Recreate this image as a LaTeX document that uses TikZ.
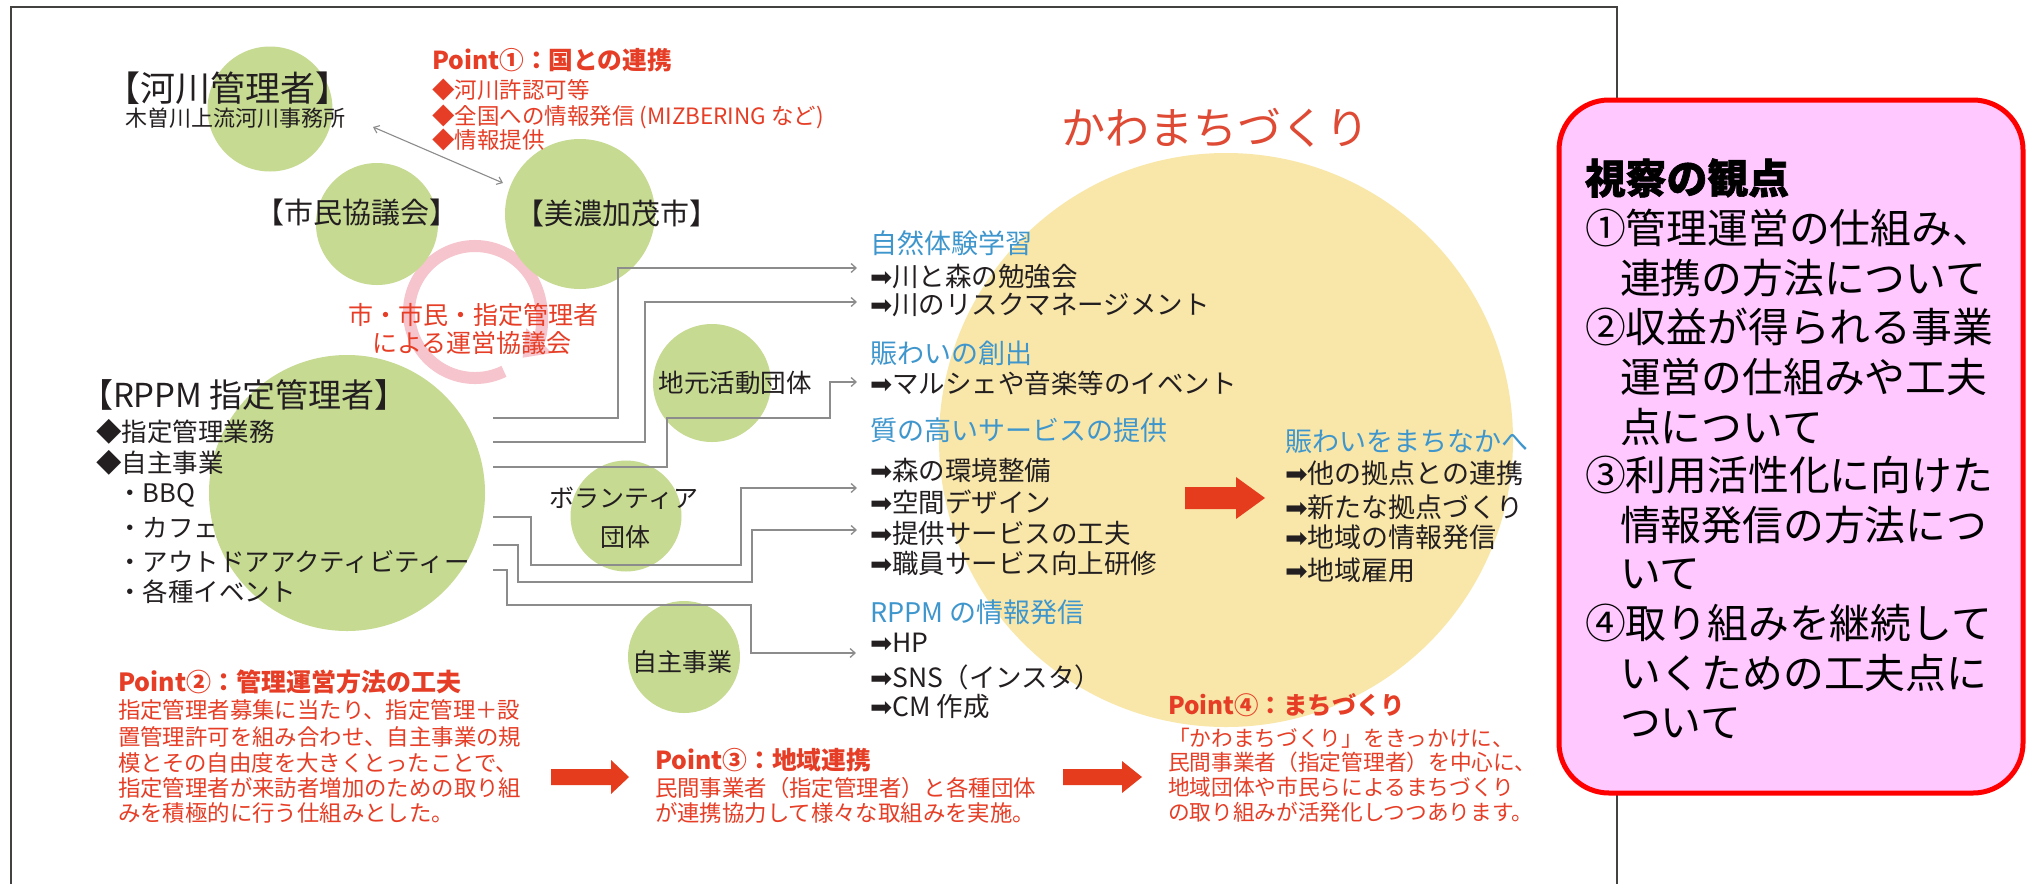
\documentclass[tikz,border=0pt]{standalone}
\usepackage{fontspec}
\setmainfont{Noto Sans CJK JP}
\newfontfamily\symf{DejaVu Sans}
\usetikzlibrary{arrows.meta}
\definecolor{ink}{RGB}{35,31,32}
\definecolor{ptred}{RGB}{230,62,38}
\definecolor{kawared}{RGB}{222,74,52}
\definecolor{skyblue}{RGB}{62,150,205}
\definecolor{leaf}{RGB}{198,218,146}
\definecolor{sun}{RGB}{249,231,170}
\definecolor{ringpink}{RGB}{246,196,205}
\definecolor{lgray}{RGB}{140,140,140}
\definecolor{boxred}{RGB}{255,0,0}
\definecolor{boxpink}{RGB}{255,200,255}
\definecolor{arrred}{RGB}{230,60,30}
\newcommand\fsz[1]{\fontsize{#1}{#1}\selectfont}
\newcommand\myarr{{\symf ➡}}
\begin{document}
\begin{tikzpicture}[x=1pt,y=-1pt,
  every node/.style={inner sep=0pt,outer sep=0pt},
  blk/.style={text=ink},
  rd/.style={text=ptred},
  bl/.style={text=skyblue},
  blob/.style={circle,fill=leaf},
  conn/.style={draw=lgray,line width=1.3pt,-{Straight Barb[length=5pt,width=9pt]}},
  dbl/.style={draw=lgray,line width=1.1pt,{Straight Barb[length=5pt,width=8pt]}-{Straight Barb[length=5pt,width=8pt]}},
  frame/.style={draw=ink!85,line width=2pt},
  bigarrow/.style={fill=arrred},
  boxline/.style={anchor=west,text=black,font={\fsz{40.8}}}
]
\useasboundingbox[fill=white] (0,0) rectangle (2028,884);

% big yellow circle and title
\node[circle,fill=sun,minimum size=574pt] (cY) at (1226,440) {};
\node[anchor=west,text=kawared,font={\fsz{44}}] (kawa) at (1061,128) {かわまちづくり};

% pink circular arrow
\coordinate (ringc) at (475,312);
\draw[line width=12pt,draw=ringpink,-{Triangle[length=24pt,width=34pt]}]
  (ringc) ++(-64:66pt) arc[start angle=-64,end angle=-404,radius=66pt];

% green circles
\node[blob,minimum size=125pt] (cA) at (270,109) {};
\node[blob,minimum size=122pt] (cB) at (377,224) {};
\node[blob,minimum size=150pt] (cC) at (580,214) {};
\node[blob,minimum size=276pt] (cD) at (347,493) {};
\node[blob,minimum size=118pt] (cE) at (712,383) {};
\node[blob,minimum size=111pt] (cF) at (626,516) {};
\node[blob,minimum size=112pt] (cG) at (684,657) {};

% connectors
\coordinate (a1) at (373,127);
\coordinate (a2) at (503,183);
\draw[dbl] (a1) -- (a2);

\coordinate (s1) at (493,418); \coordinate (e1) at (857,268);
\coordinate (s2) at (493,442); \coordinate (e2) at (857,302);
\coordinate (s3) at (493,467); \coordinate (e3) at (857,382);
\coordinate (s4) at (493,517); \coordinate (e4) at (857,488);
\coordinate (s5) at (493,545); \coordinate (e5) at (857,530);
\coordinate (s6) at (493,570); \coordinate (e6) at (856,653);
\draw[conn] (s1) -- (618,418) -- (618,268) -- (e1);
\draw[conn] (s2) -- (645,442) -- (645,302) -- (e2);
\draw[conn] (s3) -- (667,467) -- (667,418) -- (830,418) -- (830,382) -- (e3);
\draw[conn] (s4) -- (531,517) -- (531,565) -- (741,565) -- (741,488) -- (e4);
\draw[conn] (s5) -- (518,545) -- (518,582) -- (752,582) -- (752,530) -- (e5);
\draw[conn] (s6) -- (507,570) -- (507,605) -- (751,605) -- (751,653) -- (e6);

% top-left texts
\node[blk,font={\fsz{35}}] (kasen) at (228,88) {【河川管理者】};
\node[blk,font={\fsz{22}}] (kiso) at (235,118) {木曽川上流河川事務所};
\node[rd,anchor=west,font={\fsz{24.7}\bfseries}] (p1t) at (432,60) {Point①：国との連携};
\node[rd,anchor=west,font={\fsz{22.5}}] (p1a) at (432,90) {◆河川許認可等};
\node[rd,anchor=west,font={\fsz{22.5}}] (p1b) at (432,117) {◆全国への情報発信 (MIZBERING など)};
\node[rd,anchor=west,font={\fsz{22.5}}] (p1c) at (432,140) {◆情報提供};
\node[blk,font={\fsz{29}}] (shimin) at (357,213) {【市民協議会】};
\node[blk,font={\fsz{29}}] (mino) at (617,213) {【美濃加茂市】};
\node[rd,font={\fsz{25}}] (kyo1) at (473,315) {市・市民・指定管理者};
\node[rd,font={\fsz{25}}] (kyo2) at (472,343) {による運営協議会};

% RPPM
\node[blk,anchor=west,font={\fsz{33}}] (rppm) at (80,395) {【RPPM 指定管理者】};
\node[blk,anchor=west,font={\fsz{25.5}}] (r1) at (96,432) {◆指定管理業務};
\node[blk,anchor=west,font={\fsz{25.5}}] (r2) at (96,463) {◆自主事業};
\node[blk,anchor=west,font={\fsz{25.5}}] (r3) at (117,495) {・BBQ};
\node[blk,anchor=west,font={\fsz{25.5}}] (r4) at (117,528) {・カフェ};
\node[blk,anchor=west,font={\fsz{25.5}}] (r5) at (117,562) {・アウトドアアクティビティー};
\node[blk,anchor=west,font={\fsz{25.5}}] (r6) at (117,592) {・各種イベント};

% groups in circles
\node[blk,font={\fsz{25.5}}] (jimoto) at (735,383) {地元活動団体};
\node[blk,font={\fsz{25}}] (vol1) at (624,498) {ボランティア};
\node[blk,font={\fsz{25}}] (vol2) at (625,537) {団体};
\node[blk,font={\fsz{25}}] (jishu) at (682,662) {自主事業};

% right column
\node[bl,anchor=west,font={\fsz{27}}] (h1) at (870,243) {自然体験学習};
\node[blk,anchor=west,font={\fsz{26.5}}] (i1) at (870,277) {\myarr 川と森の勉強会};
\node[blk,anchor=west,font={\fsz{26.5}}] (i2) at (870,305) {\myarr 川のリスクマネージメント};
\node[bl,anchor=west,font={\fsz{27}}] (h2) at (870,353) {賑わいの創出};
\node[blk,anchor=west,font={\fsz{26.5}}] (i3) at (870,383) {\myarr マルシェや音楽等のイベント};
\node[bl,anchor=west,font={\fsz{27}}] (h3) at (870,430) {質の高いサービスの提供};
\node[blk,anchor=west,font={\fsz{26.5}}] (i4) at (870,470) {\myarr 森の環境整備};
\node[blk,anchor=west,font={\fsz{26.5}}] (i5) at (870,502) {\myarr 空間デザイン};
\node[blk,anchor=west,font={\fsz{26.5}}] (i6) at (870,533) {\myarr 提供サービスの工夫};
\node[blk,anchor=west,font={\fsz{26.5}}] (i7) at (870,563) {\myarr 職員サービス向上研修};
\node[bl,anchor=west,font={\fsz{27}}] (h4) at (870,612) {RPPM の情報発信};
\node[blk,anchor=west,font={\fsz{26.5}}] (i8) at (870,643) {\myarr HP};
\node[blk,anchor=west,font={\fsz{26.5}}] (i9) at (870,677) {\myarr SNS（インスタ）};
\node[blk,anchor=west,font={\fsz{26.5}}] (i10) at (870,707) {\myarr CM 作成};

\node[bl,anchor=west,font={\fsz{27}}] (h5) at (1285,442) {賑わいをまちなかへ};
\node[blk,anchor=west,font={\fsz{27}}] (j1) at (1285,473) {\myarr 他の拠点との連携};
\node[blk,anchor=west,font={\fsz{27}}] (j2) at (1285,507) {\myarr 新たな拠点づくり};
\node[blk,anchor=west,font={\fsz{27}}] (j3) at (1285,537) {\myarr 地域の情報発信};
\node[blk,anchor=west,font={\fsz{27}}] (j4) at (1285,570) {\myarr 地域雇用};

% red block arrows
\fill[bigarrow] (1185,487) -- (1236,487) -- (1236,477) -- (1265,498) -- (1236,519) -- (1236,509) -- (1185,509) -- cycle;
\fill[bigarrow] (551,769) -- (611,769) -- (611,760) -- (629,777) -- (611,794) -- (611,785) -- (551,785) -- cycle;
\fill[bigarrow] (1063,769) -- (1122,769) -- (1122,761) -- (1142,777) -- (1122,793) -- (1122,785) -- (1063,785) -- cycle;

% Point 2
\node[rd,anchor=west,font={\fsz{25}\bfseries}] (p2t) at (118,682) {Point②：管理運営方法の工夫};
\node[rd,anchor=west,font={\fsz{22.4}}] (p2a) at (118,710) {指定管理者募集に当たり、指定管理＋設};
\node[rd,anchor=west,font={\fsz{22.4}}] (p2b) at (118,737) {置管理許可を組み合わせ、自主事業の規};
\node[rd,anchor=west,font={\fsz{22.4}}] (p2c) at (118,763) {模とその自由度を大きくとったことで、};
\node[rd,anchor=west,font={\fsz{22.4}}] (p2d) at (118,788) {指定管理者が来訪者増加のための取り組};
\node[rd,anchor=west,font={\fsz{22.4}}] (p2e) at (118,813) {みを積極的に行う仕組みとした。};
% Point 3
\node[rd,anchor=west,font={\fsz{24.8}\bfseries}] (p3t) at (655,760) {Point③：地域連携};
\node[rd,anchor=west,font={\fsz{22.4}}] (p3a) at (655,788) {民間事業者（指定管理者）と各種団体};
\node[rd,anchor=west,font={\fsz{22.4}}] (p3b) at (655,813) {が連携協力して様々な取組みを実施。};
% Point 4
\node[rd,anchor=west,font={\fsz{24.4}\bfseries}] (p4t) at (1168,705) {Point④：まちづくり};
\node[rd,anchor=west,font={\fsz{21.7}}] (p4a) at (1168,738) {「かわまちづくり」をきっかけに、};
\node[rd,anchor=west,font={\fsz{21.7}}] (p4b) at (1168,762) {民間事業者（指定管理者）を中心に、};
\node[rd,anchor=west,font={\fsz{21.7}}] (p4c) at (1168,787) {地域団体や市民らによるまちづくり};
\node[rd,anchor=west,font={\fsz{21.7}}] (p4d) at (1168,812) {の取り組みが活発化しつつあります。};

% frame
\draw[frame] (11,884) -- (11,7) -- (1617,7) -- (1617,884);

% pink box
\node[draw=boxred,line width=5pt,fill=boxpink,rounded corners=50pt,
  minimum width=464pt,minimum height=693pt,anchor=north west] (box) at (1559,100) {};
\node[boxline,font={\fsz{40.8}\bfseries\addfontfeature{FakeBold=1.5}}] (b0) at (1585,178) {視察の観点};
\node[boxline] (b1) at (1585,228) {①管理運営の仕組み、};
\node[boxline] (b2) at (1620,278) {連携の方法について};
\node[boxline] (b3) at (1585,327) {②収益が得られる事業};
\node[boxline] (b4) at (1620,377) {運営の仕組みや工夫};
\node[boxline] (b5) at (1620,427) {点について};
\node[boxline] (b6) at (1585,475) {③利用活性化に向けた};
\node[boxline] (b7) at (1620,525) {情報発信の方法につ};
\node[boxline] (b8) at (1620,574) {いて};
\node[boxline] (b9) at (1585,623) {④取り組みを継続して};
\node[boxline] (b10) at (1620,673) {いくための工夫点に};
\node[boxline] (b11) at (1620,723) {ついて};
\end{tikzpicture}
\end{document}
